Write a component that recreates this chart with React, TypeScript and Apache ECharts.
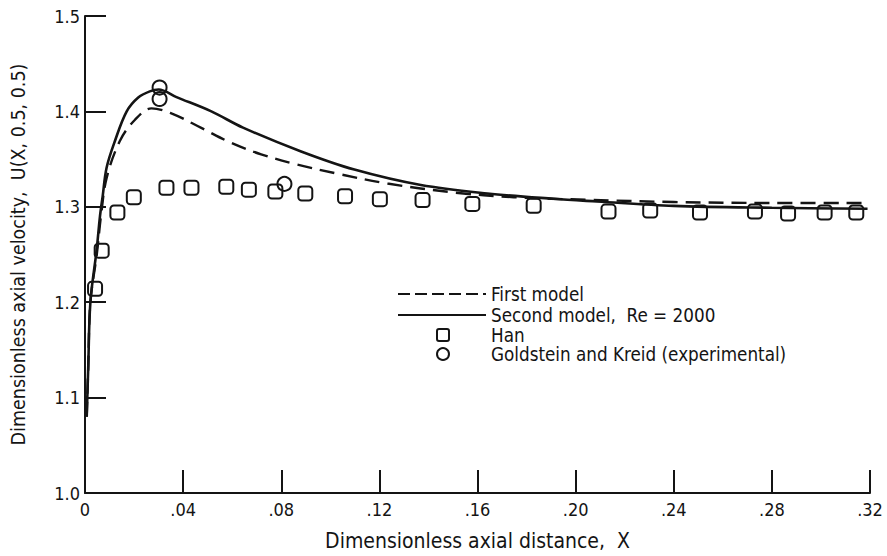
import React, { useEffect, useRef } from "react";
import * as echarts from "echarts";

const FONT = "'DejaVu Sans Condensed', 'Liberation Sans Narrow', 'DejaVu Sans', sans-serif";
const INK = "#141414";

// First model (dashed)
const firstModelX = [0.0007, 0.0013, 0.0022, 0.0048, 0.0065, 0.0088, 0.0142, 0.0203, 0.0271, 0.0352, 0.0474, 0.0596, 0.0718, 0.0854, 0.1030, 0.1233, 0.1504, 0.1748, 0.2046, 0.2400, 0.2800, 0.3190];
const firstModelU = [1.08, 1.13, 1.20, 1.25, 1.29, 1.33, 1.369, 1.391, 1.4032, 1.398, 1.3827, 1.367, 1.355, 1.345, 1.3347, 1.3244, 1.315, 1.310, 1.3074, 1.305, 1.304, 1.304];

// Second model, Re = 2000 (solid)
const secondModelX = [0.0007, 0.0013, 0.0022, 0.0048, 0.0061, 0.0072, 0.0088, 0.0122, 0.0170, 0.0217, 0.0264, 0.0300, 0.0373, 0.0515, 0.0644, 0.0881, 0.1098, 0.1369, 0.1640, 0.1910, 0.2087, 0.2400, 0.2800, 0.3190];
const secondModelU = [1.08, 1.13, 1.20, 1.256, 1.29, 1.311, 1.341, 1.369, 1.400, 1.4145, 1.421, 1.423, 1.415, 1.400, 1.383, 1.358, 1.339, 1.3228, 1.314, 1.3084, 1.3056, 1.301, 1.299, 1.298];

// Han (squares)
const hanX = [0.0041, 0.0068, 0.0132, 0.0199, 0.0332, 0.0434, 0.0576, 0.0668, 0.0776, 0.0898, 0.1060, 0.1202, 0.1376, 0.1579, 0.1829, 0.2134, 0.2304, 0.2507, 0.2731, 0.2866, 0.3015, 0.3144];
const hanU = [1.214, 1.254, 1.294, 1.310, 1.320, 1.320, 1.321, 1.318, 1.316, 1.314, 1.311, 1.308, 1.307, 1.303, 1.301, 1.295, 1.296, 1.294, 1.295, 1.293, 1.294, 1.294];

// Goldstein and Kreid (experimental) (circles)
const gkX = [0.0304, 0.0304, 0.0813];
const gkU = [1.425, 1.413, 1.324];

const legendLabels = ["First model", "Second model,  Re = 2000", "Han", "Goldstein and Kreid (experimental)"];
const xAxisTitle = "Dimensionless axial distance,  X";
const yAxisTitle = "Dimensionless axial velocity,  U(X, 0.5, 0.5)";

const zip = (xs: number[], ys: number[]) => xs.map((x, i) => [x, ys[i]]);

export default function App() {
  const ref = useRef<HTMLDivElement>(null);
  useEffect(() => {
    if (!ref.current) return;
    const chart = echarts.init(ref.current, null, { renderer: "svg" });
    const txt = { fontFamily: FONT, fontSize: 18, color: INK };
    const lx = 398, lx2 = 486, tx = 491;
    const rows = [294, 315, 335, 354];
    chart.setOption({
      animation: false,
      backgroundColor: "#ffffff",
      grid: { left: 83, right: 17, top: 16, bottom: 53 },
      xAxis: {
        type: "value",
        min: 0,
        max: 0.32,
        interval: 0.04,
        name: xAxisTitle,
        nameLocation: "middle",
        nameGap: 37,
        nameTextStyle: { ...txt, fontSize: 21 },
        axisLine: { lineStyle: { color: INK, width: 2 } },
        axisTick: { inside: true, length: 23, lineStyle: { color: INK, width: 2 } },
        axisLabel: {
          ...txt,
          margin: 7,
          formatter: (v: number) => (v === 0 ? "0" : v.toFixed(2).replace(/^0/, "")),
        },
        splitLine: { show: false },
      },
      yAxis: {
        type: "value",
        min: 1.0,
        max: 1.5,
        interval: 0.1,
        name: yAxisTitle,
        nameLocation: "middle",
        nameRotate: 90,
        nameGap: 57,
        nameTextStyle: { ...txt, fontSize: 19.5 },
        axisLine: { lineStyle: { color: INK, width: 2 } },
        axisTick: { inside: true, length: 21, lineStyle: { color: INK, width: 2 } },
        axisLabel: { ...txt, margin: 5, formatter: (v: number) => v.toFixed(1) },
        splitLine: { show: false },
      },
      series: [
        {
          name: legendLabels[0],
          type: "line",
          data: zip(firstModelX, firstModelU),
          showSymbol: false,
          smooth: 0.35,
          lineStyle: { color: INK, width: 2.4, type: [15, 8] },
        },
        {
          name: legendLabels[1],
          type: "line",
          data: zip(secondModelX, secondModelU),
          showSymbol: false,
          smooth: 0.35,
          lineStyle: { color: INK, width: 2.6 },
        },
        {
          name: legendLabels[2],
          type: "scatter",
          data: zip(hanX, hanU),
          symbol: "roundRect",
          symbolSize: 14,
          itemStyle: { color: "rgba(255,255,255,0)", borderColor: INK, borderWidth: 2, opacity: 1 },
        },
        {
          name: legendLabels[3],
          type: "scatter",
          data: zip(gkX, gkU),
          symbol: "circle",
          symbolSize: 14,
          itemStyle: { color: "rgba(255,255,255,0)", borderColor: INK, borderWidth: 2, opacity: 1 },
        },
      ],
      graphic: [
        { type: "line", shape: { x1: lx, y1: rows[0], x2: lx2, y2: rows[0] }, style: { stroke: INK, lineWidth: 2.2, lineDash: [12, 5] } },
        { type: "line", shape: { x1: lx, y1: rows[1], x2: lx2, y2: rows[1] }, style: { stroke: INK, lineWidth: 2.2 } },
        { type: "rect", shape: { x: 437, y: rows[2] - 6, width: 12, height: 12, r: 2 }, style: { fill: "none", stroke: INK, lineWidth: 2 } },
        { type: "circle", shape: { cx: 443, cy: rows[3], r: 6 }, style: { fill: "none", stroke: INK, lineWidth: 2 } },
        ...legendLabels.map((t, i) => ({
          type: "text",
          x: tx,
          y: rows[i],
          style: { text: t, font: `18.7px ${FONT}`, fill: INK, verticalAlign: "middle", align: "left" },
        })),
      ],
    });
    return () => chart.dispose();
  }, []);
  return <div ref={ref} style={{ position: "fixed", left: 0, top: 0, width: 887, height: 556, background: "#fff" }} />;
}
